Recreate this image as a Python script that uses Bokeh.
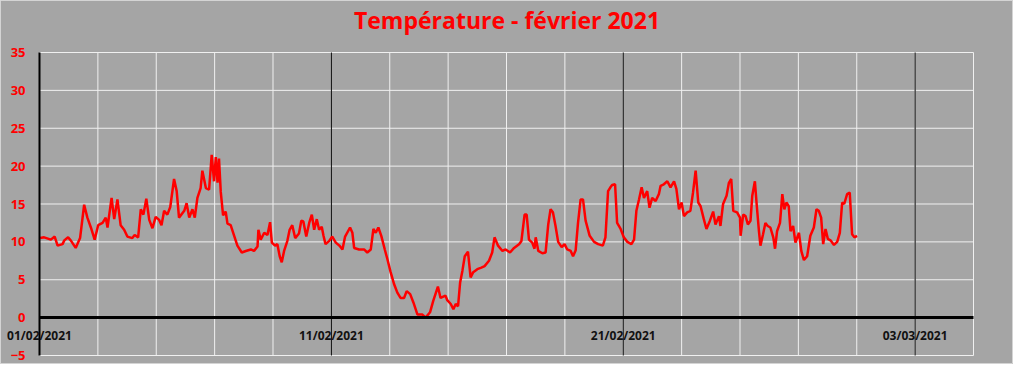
from datetime import datetime, timedelta
from bokeh.plotting import figure
from bokeh.models import FixedTicker, Range1d, Label
from bokeh.embed import file_html
from bokeh.resources import INLINE

title_text = "Température - février 2021"
start_date = datetime(2021, 2, 1)
end_date = datetime(2021, 3, 5)
major_tick_days = [0, 10, 20, 30]
major_tick_labels = ["01/02/2021", "11/02/2021", "21/02/2021", "03/03/2021"]
minor_tick_days = list(range(2, 33, 2))
y_ticks = [-5, 0, 5, 10, 15, 20, 25, 30, 35]

# time since 01/02/2021 00:00 (days) and temperature (°C)
days = [
    0.02, 0.16, 0.39, 0.52, 0.62, 0.79, 0.85, 0.98, 1.07, 1.24, 1.39, 1.53, 1.64, 1.76, 1.89,
    2.01, 2.16, 2.27, 2.33, 2.47, 2.56, 2.67, 2.78, 2.90, 3.01, 3.18, 3.26, 3.38, 3.47, 3.56,
    3.66, 3.76, 3.87, 3.98, 4.10, 4.18, 4.27, 4.38, 4.48, 4.61, 4.70, 4.78, 4.96, 5.04, 5.13,
    5.24, 5.32, 5.41, 5.52, 5.58, 5.70, 5.81, 5.90, 5.98, 6.04, 6.10, 6.15, 6.21, 6.29, 6.38,
    6.44, 6.55, 6.67, 6.78, 6.93, 7.07, 7.24, 7.35, 7.47, 7.50, 7.58, 7.70, 7.81, 7.90, 7.96,
    8.07, 8.15, 8.23, 8.30, 8.38, 8.49, 8.57, 8.66, 8.76, 8.89, 8.97, 9.04, 9.14, 9.24, 9.33,
    9.41, 9.50, 9.58, 9.67, 9.73, 9.80, 9.92, 10.03, 10.15, 10.28, 10.38, 10.47, 10.64, 10.72, 10.78,
    10.95, 11.12, 11.23, 11.35, 11.44, 11.52, 11.61, 11.71, 11.83, 11.92, 12.03, 12.15, 12.26, 12.37, 12.49,
    12.58, 12.70, 12.81, 12.95, 13.12, 13.23, 13.38, 13.49, 13.65, 13.74, 13.91, 13.97, 14.09, 14.18, 14.26,
    14.34, 14.41, 14.49, 14.57, 14.68, 14.77, 14.86, 15.00, 15.14, 15.25, 15.40, 15.51, 15.59, 15.71, 15.86,
    15.97, 16.12, 16.26, 16.43, 16.51, 16.62, 16.69, 16.77, 16.88, 16.96, 17.00, 17.09, 17.23, 17.34, 17.43,
    17.51, 17.59, 17.68, 17.77, 17.89, 17.99, 18.08, 18.20, 18.28, 18.37, 18.45, 18.54, 18.62, 18.71, 18.85,
    19.00, 19.14, 19.30, 19.39, 19.48, 19.56, 19.62, 19.72, 19.79, 19.91, 20.02, 20.14, 20.28, 20.37, 20.45,
    20.54, 20.63, 20.71, 20.82, 20.90, 20.99, 21.11, 21.22, 21.28, 21.39, 21.51, 21.62, 21.74, 21.82, 21.91,
    22.00, 22.08, 22.19, 22.30, 22.39, 22.48, 22.57, 22.65, 22.76, 22.85, 22.97, 23.08, 23.16, 23.28, 23.33,
    23.42, 23.54, 23.62, 23.70, 23.77, 23.90, 24.00, 24.02, 24.11, 24.19, 24.27, 24.36, 24.42, 24.51, 24.57,
    24.65, 24.70, 24.79, 24.87, 24.95, 25.04, 25.14, 25.20, 25.27, 25.37, 25.45, 25.52, 25.59, 25.67, 25.73,
    25.82, 25.90, 26.02, 26.10, 26.19, 26.30, 26.41, 26.53, 26.62, 26.70, 26.78, 26.85, 26.93, 27.01, 27.10,
    27.22, 27.33, 27.42, 27.50, 27.57, 27.67, 27.76, 27.84, 27.92, 28.01,
]
temps = [
    10.5, 10.6, 10.3, 10.7, 9.5, 9.7, 10.2, 10.6, 10.2, 9.2, 10.5, 14.9, 13.2, 11.9, 10.3,
    12.2, 12.5, 13.2, 11.9, 15.8, 13.0, 15.6, 12.2, 11.6, 10.7, 10.5, 10.9, 10.6, 14.3, 13.6,
    15.7, 12.9, 11.8, 13.3, 12.9, 12.2, 14.1, 13.6, 14.6, 18.3, 16.7, 13.2, 14.1, 15.1, 13.2,
    14.3, 13.2, 15.8, 17.1, 19.4, 17.1, 16.9, 21.5, 18.0, 21.2, 17.8, 21.0, 16.6, 13.5, 14.0,
    12.4, 12.2, 10.8, 9.5, 8.6, 8.8, 9.0, 8.8, 9.4, 11.6, 10.3, 11.2, 10.9, 12.6, 9.9,
    9.5, 9.7, 8.1, 7.3, 8.8, 10.1, 11.6, 12.2, 10.5, 11.1, 12.8, 12.7, 10.7, 12.5, 13.6,
    11.6, 13.0, 11.6, 12.0, 10.8, 9.7, 10.1, 10.7, 9.9, 9.5, 9.0, 10.7, 11.9, 11.2, 9.2,
    9.0, 9.0, 8.6, 9.0, 11.7, 11.2, 11.9, 10.8, 9.0, 7.7, 6.0, 4.4, 3.3, 2.6, 2.6,
    3.5, 3.1, 2.0, 0.4, 0.4, 0.0, 0.7, 2.2, 4.1, 2.6, 2.9, 2.3, 1.8, 1.1, 1.8,
    1.5, 4.6, 6.2, 8.1, 8.7, 5.3, 6.0, 6.4, 6.6, 6.8, 7.5, 8.6, 10.6, 9.5, 8.8,
    9.0, 8.6, 9.2, 9.7, 10.1, 13.6, 13.6, 10.3, 9.9, 9.1, 10.6, 8.8, 8.5, 8.6, 12.3,
    14.3, 13.9, 12.1, 10.0, 9.3, 9.7, 9.0, 8.8, 8.1, 8.9, 12.5, 15.6, 15.6, 12.8, 10.8,
    10.0, 9.7, 9.5, 10.6, 16.7, 17.2, 17.5, 17.6, 12.5, 11.7, 10.6, 10.0, 9.7, 10.3, 14.1,
    15.6, 17.2, 15.8, 16.7, 14.5, 15.8, 15.4, 16.3, 17.4, 17.6, 18.0, 17.2, 18.0, 17.0, 14.3,
    15.2, 13.4, 13.9, 14.1, 16.5, 19.4, 15.2, 14.7, 13.0, 11.7, 12.8, 14.0, 12.3, 13.4, 12.1,
    15.0, 16.1, 17.8, 18.3, 14.1, 13.9, 13.2, 10.8, 13.6, 13.4, 12.3, 12.8, 16.1, 18.0, 15.0,
    11.4, 9.5, 11.0, 12.5, 12.1, 11.9, 10.6, 9.1, 11.4, 12.5, 16.3, 14.3, 15.2, 14.7, 11.4,
    12.1, 9.9, 11.2, 8.8, 7.6, 8.1, 10.8, 11.9, 14.3, 14.1, 13.2, 9.7, 11.7, 10.4, 10.2,
    9.6, 10.0, 11.2, 15.2, 15.0, 16.3, 16.5, 11.0, 10.6, 10.8,
]

times = [start_date + timedelta(days=d) for d in days]


def dt(d):
    return start_date + timedelta(days=d)


def ms(d):
    return (dt(d) - datetime(1970, 1, 1)).total_seconds() * 1000


# ---- layout (pixels) ----
W, H = 1013, 364
AX_LEFT = 39          # x pixel of the y axis (01/02)
AX_RIGHT = 973        # x pixel of the plot-area right edge
AX_TOP = 52           # y pixel of the value 35
AX_BOTTOM = 355       # y pixel of the value -5
TITLE_Y = 19
y_lo, y_hi = y_ticks[0], y_ticks[-1]
total_days = (end_date - start_date).days
px_per_day = (AX_RIGHT - AX_LEFT) / total_days
px_per_unit = (AX_BOTTOM - AX_TOP) / (y_hi - y_lo)
x_start = start_date - timedelta(days=AX_LEFT / px_per_day)
x_end = end_date + timedelta(days=(W - AX_RIGHT) / px_per_day)
y_top = y_hi + AX_TOP / px_per_unit
y_bottom = y_lo - (H - AX_BOTTOM) / px_per_unit

BG = "#A5A5A5"
LIGHT = "#F0F0F0"

p = figure(
    width=W, height=H,
    x_axis_type="datetime",
    x_range=Range1d(x_start, x_end),
    y_range=Range1d(y_bottom, y_top),
    output_backend="svg", toolbar_location=None,
    min_border_left=0, min_border_right=0, min_border_top=0, min_border_bottom=0,
)
p.background_fill_color = BG
p.border_fill_color = BG
p.outline_line_color = "#D4D4D4"
p.outline_line_width = 1
p.xgrid.visible = False
p.ygrid.visible = False

# grid lines (plot area only)
p.segment(x0=[start_date] * len(y_ticks), y0=y_ticks, x1=[end_date] * len(y_ticks), y1=y_ticks,
          line_color=LIGHT, line_width=1)
p.segment(x0=[dt(d) for d in minor_tick_days], y0=[y_lo] * len(minor_tick_days),
          x1=[dt(d) for d in minor_tick_days], y1=[y_hi] * len(minor_tick_days),
          line_color=LIGHT, line_width=1)
p.segment(x0=[dt(d) for d in major_tick_days[1:]], y0=[y_lo] * 3,
          x1=[dt(d) for d in major_tick_days[1:]], y1=[y_hi] * 3,
          line_color="black", line_width=1)

p.line(times, temps, line_color="#FF0000", line_width=2.5)

# x axis crossing at y = 0
xa = p.xaxis[0]
xa.ticker = FixedTicker(ticks=[ms(d) for d in major_tick_days])
xa.fixed_location = 0
xa.bounds = (ms(0), ms(total_days))
xa.axis_line_color = "black"
xa.axis_line_width = 3
xa.major_tick_in = 0
xa.major_tick_out = 0
xa.minor_tick_in = 0
xa.minor_tick_out = 0
xa.major_label_text_alpha = 0

for d, lab in zip(major_tick_days, major_tick_labels):
    p.add_layout(Label(x=ms(d), y=0, text=lab, text_align="center", text_baseline="top",
                       y_offset=-9, text_font="Open Sans", text_font_style="bold",
                       text_font_size="12px", text_color="#111111"))

# y axis on 01/02
ya = p.yaxis[0]
ya.ticker = FixedTicker(ticks=y_ticks)
ya.fixed_location = ms(0)
ya.bounds = (y_lo, y_hi)
ya.axis_line_color = "black"
ya.axis_line_width = 2
ya.major_tick_in = 0
ya.major_tick_out = 0
ya.minor_tick_in = 0
ya.minor_tick_out = 0
ya.major_label_standoff = 14
ya.major_label_text_font = "Open Sans"
ya.major_label_text_font_style = "bold"
ya.major_label_text_font_size = "13px"
ya.major_label_text_color = "#FF0000"

# title
title_day = (W / 2 - AX_LEFT) / px_per_day
p.add_layout(Label(x=ms(title_day), y=y_hi + (AX_TOP - TITLE_Y) / px_per_unit, text=title_text,
                   text_align="center", text_baseline="middle", text_font="Open Sans",
                   text_font_style="bold", text_font_size="23px", text_color="#FF0000"))

open("out.html", "w").write(file_html(p, INLINE))
